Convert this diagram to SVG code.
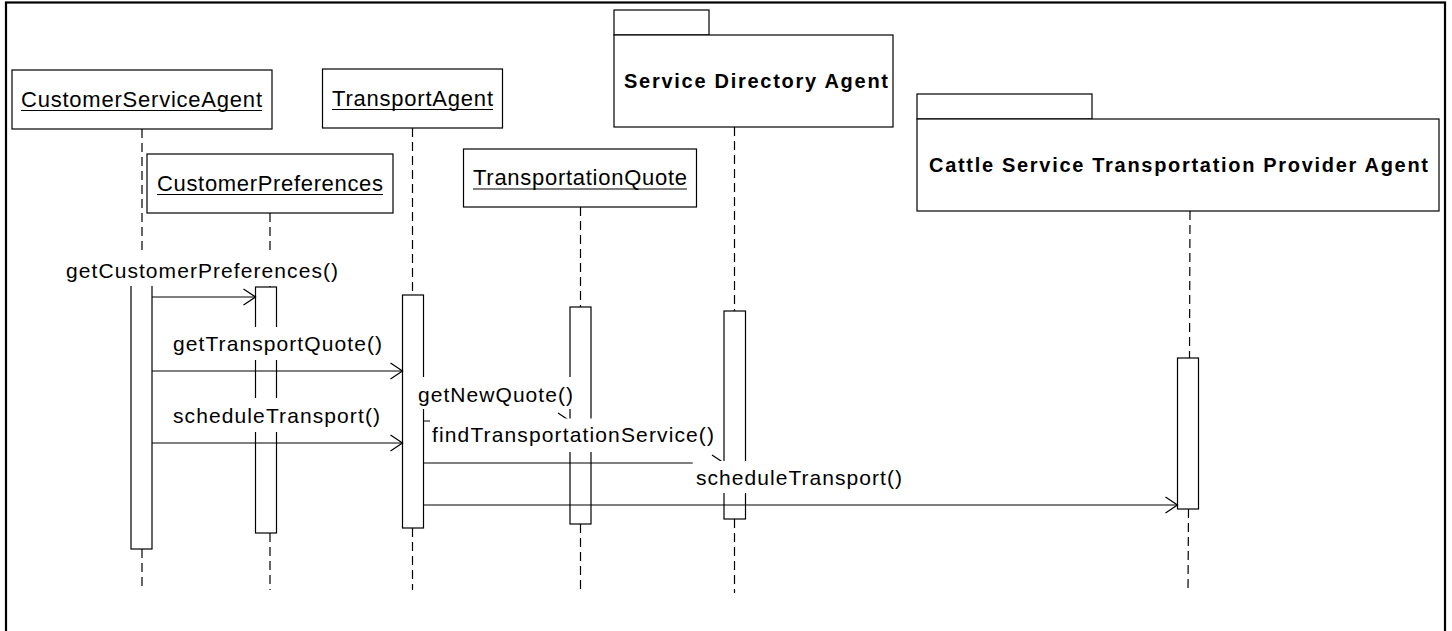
<svg xmlns="http://www.w3.org/2000/svg" width="1452" height="631" viewBox="0 0 1452 631">
<style>
.box{fill:#fff;stroke:#000;stroke-width:1.2}
.bar{fill:#fff;stroke:#000;stroke-width:1.2}
.life{fill:none;stroke:#000;stroke-width:1.2;stroke-dasharray:9 5}
.ul{stroke:#000;stroke-width:1.2}
.obj{font-family:"Liberation Sans",Arial,sans-serif;font-size:22px;fill:#000}
.pkg{font-family:"Liberation Sans",Arial,sans-serif;font-size:20px;font-weight:bold;fill:#000}
.msg{fill:none;stroke:#000;stroke-width:1.2}
.head{fill:none;stroke:#000;stroke-width:1.2}
.lbg{fill:#fff;stroke:none}
.lbl{font-family:"Liberation Sans",Arial,sans-serif;font-size:21px;fill:#000}
</style>
<rect x="0" y="0" width="1452" height="631" fill="#fff"/>
<rect x="6" y="2.5" width="1439" height="700" fill="none" stroke="#000" stroke-width="2.2"/>

<g id="CustomerServiceAgent">
<line class="life" x1="142" y1="129" x2="142" y2="280"/>
<line class="life" x1="142" y1="549" x2="142" y2="590"/>
<rect class="box" x="12" y="70" width="260" height="59"/>
<text class="obj" x="21" y="106.5" textLength="241" lengthAdjust="spacing">CustomerServiceAgent</text>
<line class="ul" x1="21" y1="110.5" x2="262" y2="110.5"/>
<rect class="bar" x="131" y="270" width="21" height="279"/>
</g>

<g id="CustomerPreferences">
<line class="life" x1="270" y1="213" x2="270" y2="287"/>
<line class="life" x1="270" y1="533" x2="270" y2="590"/>
<rect class="box" x="147" y="154" width="246" height="59"/>
<text class="obj" x="157" y="190.5" textLength="226" lengthAdjust="spacing">CustomerPreferences</text>
<line class="ul" x1="157" y1="194.5" x2="383" y2="194.5"/>
<rect class="bar" x="255.5" y="287" width="21" height="246"/>
</g>

<g id="TransportAgent">
<line class="life" x1="412.5" y1="128" x2="412.5" y2="295"/>
<line class="life" x1="412.5" y1="528" x2="412.5" y2="590"/>
<rect class="box" x="322.5" y="69" width="180" height="59"/>
<text class="obj" x="332" y="105.5" textLength="161" lengthAdjust="spacing">TransportAgent</text>
<line class="ul" x1="332" y1="109.5" x2="493" y2="109.5"/>
<rect class="bar" x="402.5" y="295" width="21" height="233"/>
</g>

<g id="TransportationQuote">
<line class="life" x1="580.5" y1="207" x2="580.5" y2="307"/>
<line class="life" x1="580.5" y1="524" x2="580.5" y2="590"/>
<rect class="box" x="463.5" y="149" width="233" height="58"/>
<text class="obj" x="473" y="185" textLength="214" lengthAdjust="spacing">TransportationQuote</text>
<line class="ul" x1="473" y1="189" x2="687" y2="189"/>
<rect class="bar" x="570" y="307" width="21" height="217"/>
</g>

<g id="ServiceDirectoryAgent">
<line class="life" x1="734.5" y1="127" x2="734.5" y2="311"/>
<line class="life" x1="734.5" y1="519" x2="734.5" y2="593"/>
<rect class="box" x="614" y="10" width="95" height="25"/>
<rect class="box" x="614" y="35" width="279" height="92"/>
<text class="pkg" x="624" y="88" textLength="264" lengthAdjust="spacing">Service Directory Agent</text>
<rect class="bar" x="724" y="311" width="21.5" height="208"/>
</g>

<g id="CattleServiceTransportationProviderAgent">
<line class="life" x1="1190" y1="211" x2="1189.5" y2="358"/>
<line class="life" x1="1188.5" y1="509" x2="1188" y2="591"/>
<rect class="box" x="917" y="94" width="175" height="25"/>
<rect class="box" x="917" y="119" width="522" height="92"/>
<text class="pkg" x="929" y="172" textLength="499" lengthAdjust="spacing">Cattle Service Transportation Provider Agent</text>
<rect class="bar" x="1177.5" y="358" width="21" height="151"/>
</g>

<g id="connectors">
<line class="msg" x1="152" y1="297" x2="255.5" y2="297"/>
<polyline class="head" points="243.5,289 255.5,297 243.5,305"/>
<line class="msg" x1="152" y1="371" x2="402.5" y2="371"/>
<polyline class="head" points="390.5,363 402.5,371 390.5,379"/>
<line class="msg" x1="152" y1="443" x2="402.5" y2="443"/>
<polyline class="head" points="390.5,435 402.5,443 390.5,451"/>
<line class="msg" x1="423.5" y1="421" x2="570" y2="421"/>
<polyline class="head" points="558,413 570,421 558,429"/>
<line class="msg" x1="423.5" y1="463" x2="724" y2="463"/>
<polyline class="head" points="712,455 724,463 712,471"/>
<line class="msg" x1="423.5" y1="505" x2="1177.5" y2="505"/>
<polyline class="head" points="1165.5,497 1177.5,505 1165.5,513"/>

<rect class="lbg" x="60" y="255" width="284" height="31"/>
<text class="lbl" x="66" y="278" textLength="272" lengthAdjust="spacing">getCustomerPreferences()</text>
<rect class="lbg" x="168" y="327" width="219" height="33"/>
<text class="lbl" x="173" y="351" textLength="209" lengthAdjust="spacing">getTransportQuote()</text>
<rect class="lbg" x="168" y="398" width="217" height="34"/>
<text class="lbl" x="173" y="423" textLength="207" lengthAdjust="spacing">scheduleTransport()</text>
<rect class="lbg" x="414" y="377" width="162" height="32"/>
<text class="lbl" x="418" y="402" textLength="155" lengthAdjust="spacing">getNewQuote()</text>
<rect class="lbg" x="430" y="418.5" width="288" height="33.5"/>
<text class="lbl" x="432" y="442" textLength="282" lengthAdjust="spacing">findTransportationService()</text>
<rect class="lbg" x="692.7" y="461" width="213" height="32"/>
<text class="lbl" x="696" y="485" textLength="206" lengthAdjust="spacing">scheduleTransport()</text>
</g>
</svg>
